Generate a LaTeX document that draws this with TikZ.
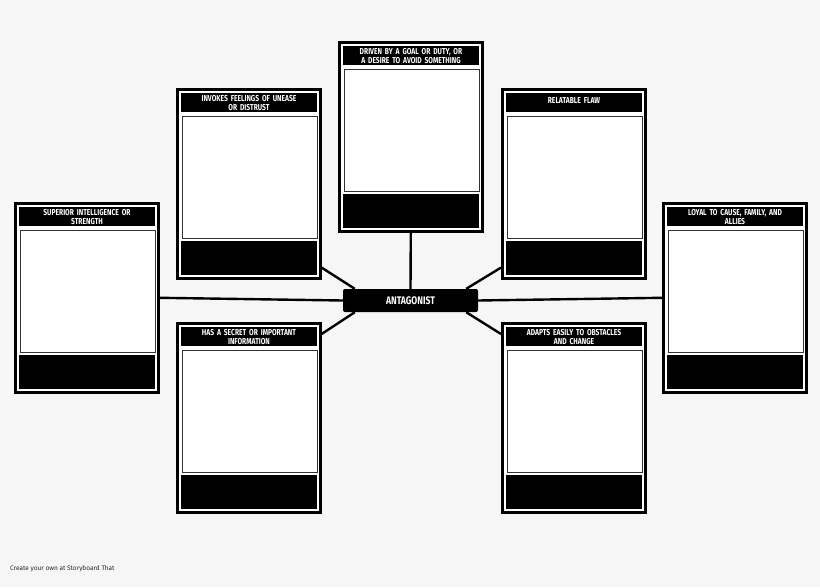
\documentclass[tikz,border=0pt]{standalone}
\usepackage{fontspec}
\setmainfont{Fira Sans}
\newfontfamily\condfont[FakeStretch=0.78]{Fira Sans}
\usetikzlibrary{backgrounds}
\tikzset{
  cardbox/.style={draw=black,line width=2.6pt,fill=white,minimum width=143pt,minimum height=189pt,inner sep=0pt,anchor=north west},
  titlebar/.style={fill=black},
  picbox/.style={draw=black!80,line width=1pt,fill=white},
  conn/.style={line width=2.4pt,black},
  titletext/.style={text=white,font=\condfont\bfseries\fontsize{8.6}{9.6}\selectfont,align=center,text width=134pt,inner sep=0pt,anchor=north}
}
\newcommand{\mycard}[5]{%
  \node[cardbox] (#3) at (#1,#2) {};
  \fill[titlebar] (#1+5,#2+5) rectangle (#1+141,#2+24);
  \node[titletext] at (#1+73,#2+#5) {#4};
  \filldraw[picbox] (#1+6,#2+28) rectangle (#1+141,#2+150);
  \fill[black] (#1+5,#2+153) rectangle (#1+141,#2+187);
}
\begin{document}
\begin{tikzpicture}[x=1pt,y=-1pt]
\useasboundingbox (0,0) rectangle (820,587);
\mycard{176}{88}{inv}{INVOKES FEELINGS OF UNEASE\\OR DISTRUST}{7}
\mycard{338}{41}{drv}{DRIVEN BY A GOAL OR DUTY, OR\\A DESIRE TO AVOID SOMETHING}{7}
\mycard{501}{88}{rel}{RELATABLE FLAW}{9.5}
\mycard{14}{202}{sup}{SUPERIOR INTELLIGENCE OR\\STRENGTH}{7}
\mycard{662}{202}{loy}{LOYAL TO CAUSE, FAMILY, AND\\ALLIES}{7}
\mycard{176}{322}{sec}{HAS A SECRET OR IMPORTANT\\INFORMATION}{7}
\mycard{501}{322}{ada}{ADAPTS EASILY TO OBSTACLES\\AND CHANGE}{7}
\node[fill=black,rounded corners=2pt,minimum width=135pt,minimum height=23pt,inner sep=0pt,text=white,font=\condfont\bfseries\fontsize{11}{12}\selectfont] (ant) at (410.5,300.5) {ANTAGONIST};
\begin{scope}[on background layer]
\fill[black!3.5] (0,0) rectangle (820,587);
\draw[conn] (sup.east) -- (ant.west);
\draw[conn] (ant.east) -- (loy.west);
\draw[conn] (drv.south) -- (ant.north);
\draw[conn] ([yshift=12pt]inv.south east) -- ([xshift=12pt]ant.north west);
\draw[conn] ([yshift=-12pt]sec.north east) -- ([xshift=12pt]ant.south west);
\draw[conn] ([yshift=12pt]rel.south west) -- ([xshift=-12pt]ant.north east);
\draw[conn] ([yshift=-12pt]ada.north west) -- ([xshift=-12pt]ant.south east);
\end{scope}
\node[anchor=west,inner sep=0pt,font=\fontsize{6.5}{7}\selectfont,text=black!85] (foot) at (10,569) {Create your own at Storyboard That};
\end{tikzpicture}
\end{document}
